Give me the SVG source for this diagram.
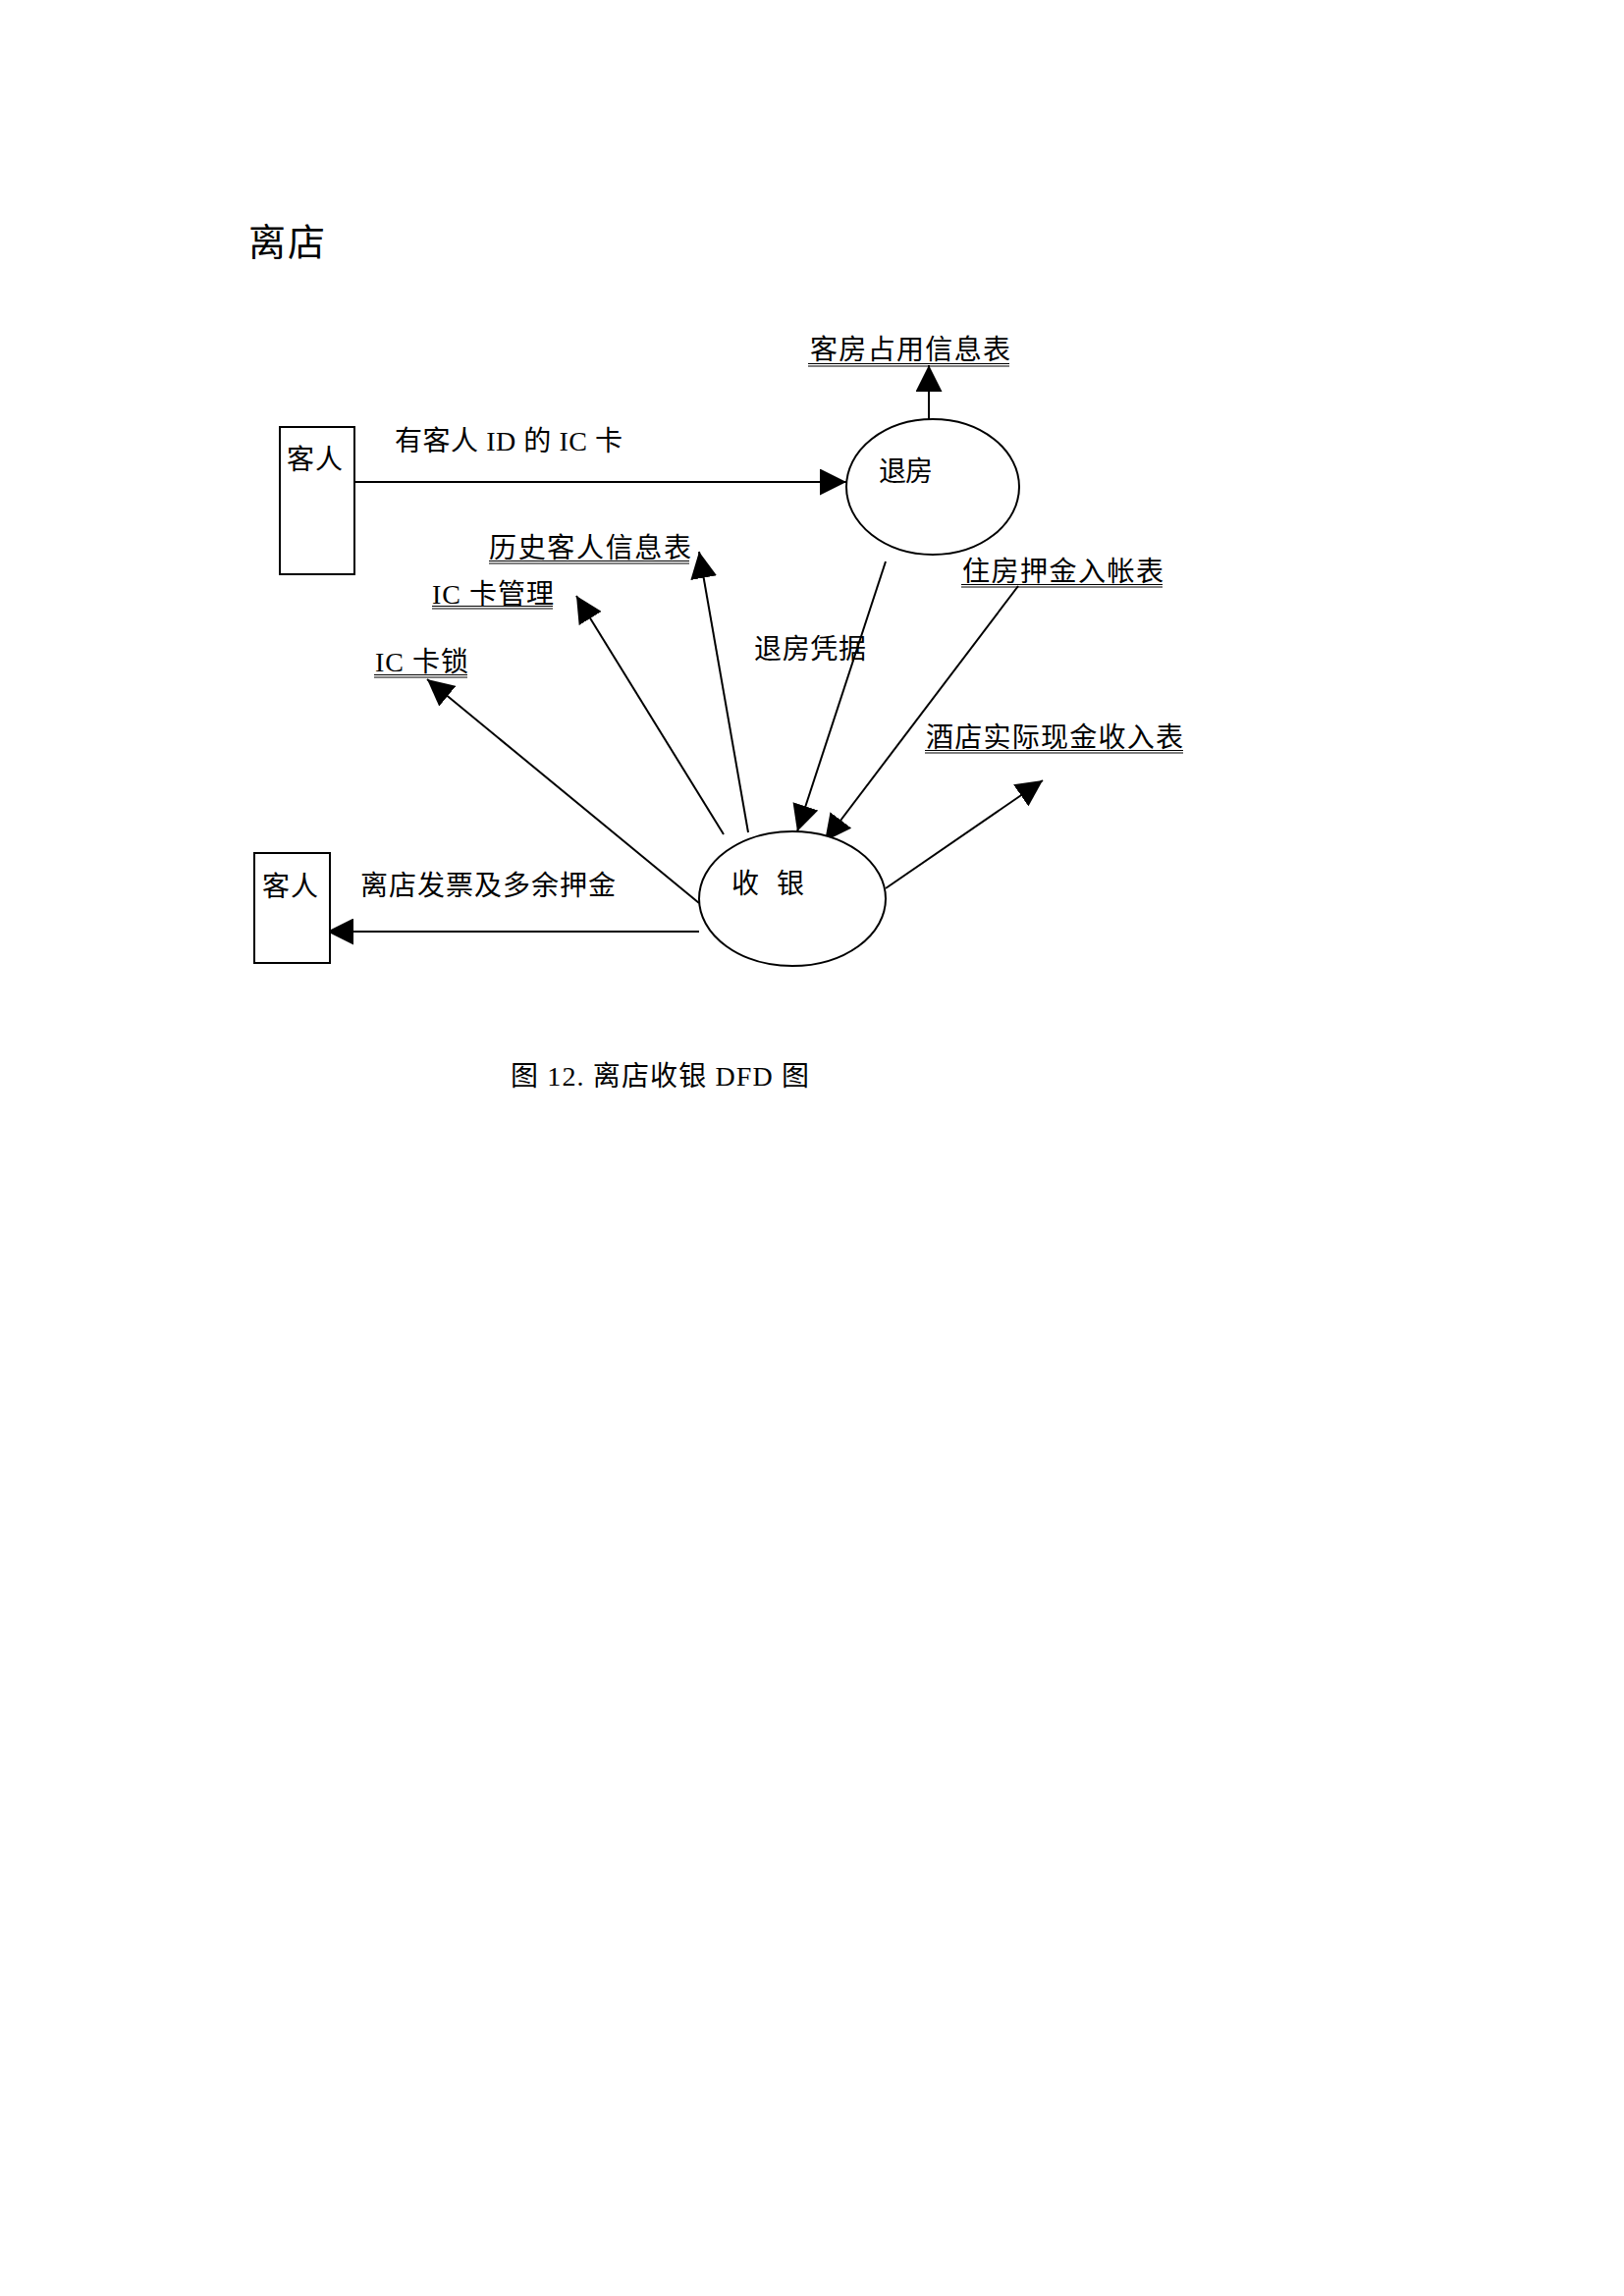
<svg xmlns="http://www.w3.org/2000/svg" width="1654" height="2339" viewBox="0 0 1654 2339">
<style>
text { font-family: "Liberation Serif", "Noto Sans CJK SC", serif; font-size: 28px; fill: #000; }
.title { font-size: 38px; }
.box { fill: #fff; stroke: #000; stroke-width: 2; }
.proc { fill: #fff; stroke: #000; stroke-width: 2; }
.flow { stroke: #000; stroke-width: 2; fill: none; marker-end: url(#arr); }
.ul { stroke: #000; stroke-width: 1.2; }
</style>
<defs>
<marker id="arr" markerUnits="userSpaceOnUse" viewBox="0 0 27 27" refX="27" refY="13.5" markerWidth="27" markerHeight="27" orient="auto">
<path d="M0,0 L27,13.5 L0,27 Z" fill="#000"/>
</marker>
</defs>
<rect width="1654" height="2339" fill="#fff"/>
<text class="title" x="253" y="260" textLength="78" lengthAdjust="spacing">离店</text>

<g id="connectors">
<line class="flow" x1="361" y1="491" x2="862" y2="491"/>
<line class="flow" x1="946" y1="437" x2="946" y2="372"/>
<line class="flow" x1="762" y1="848" x2="712" y2="562"/>
<line class="flow" x1="737" y1="850" x2="587" y2="607"/>
<line class="flow" x1="712" y1="920" x2="435" y2="692"/>
<line class="flow" x1="902" y1="572" x2="812" y2="847"/>
<line class="flow" x1="1037" y1="597" x2="840" y2="857"/>
<line class="flow" x1="902" y1="905" x2="1062" y2="795"/>
<line class="flow" x1="712" y1="949" x2="333" y2="949"/>
<text x="402" y="459" textLength="232" lengthAdjust="spacing">有客人 ID 的 IC 卡</text>
<text x="768" y="671" textLength="114" lengthAdjust="spacing">退房凭据</text>
<text x="367" y="912" textLength="260" lengthAdjust="spacing">离店发票及多余押金</text>
</g>

<g id="guest-top">
<rect class="box" x="285" y="435" width="76" height="150"/>
<text x="292" y="478" textLength="57" lengthAdjust="spacing">客人</text>
</g>

<g id="checkout">
<ellipse class="proc" cx="950" cy="496" rx="88" ry="69"/>
<text x="895" y="490" textLength="55" lengthAdjust="spacing">退房</text>
</g>

<g id="cashier">
<ellipse class="proc" cx="807" cy="915.5" rx="95" ry="68.5"/>
<text x="745" y="910" textLength="74" lengthAdjust="spacing">收 银</text>
</g>

<g id="guest-bottom">
<rect class="box" x="259" y="869" width="77" height="112"/>
<text x="267" y="913" textLength="57" lengthAdjust="spacing">客人</text>
</g>

<g id="store-room-occupancy">
<text x="825" y="366" textLength="204" lengthAdjust="spacing">客房占用信息表</text>
<line class="ul" x1="823" y1="370.5" x2="1028" y2="370.5"/>
<line class="ul" x1="823" y1="373" x2="1028" y2="373"/>
</g>

<g id="store-history">
<text x="498" y="568" textLength="206" lengthAdjust="spacing">历史客人信息表</text>
<line class="ul" x1="498" y1="571.5" x2="702" y2="571.5"/>
<line class="ul" x1="498" y1="574" x2="702" y2="574"/>
</g>

<g id="store-ic-manage">
<text x="440" y="615" textLength="124" lengthAdjust="spacing">IC 卡管理</text>
<line class="ul" x1="440" y1="617.5" x2="563" y2="617.5"/>
<line class="ul" x1="440" y1="620" x2="563" y2="620"/>
</g>

<g id="store-ic-lock">
<text x="382" y="684" textLength="95" lengthAdjust="spacing">IC 卡锁</text>
<line class="ul" x1="381" y1="687.5" x2="476" y2="687.5"/>
<line class="ul" x1="381" y1="690" x2="476" y2="690"/>
</g>

<g id="store-deposit">
<text x="980" y="592" textLength="205" lengthAdjust="spacing">住房押金入帐表</text>
<line class="ul" x1="979" y1="595.5" x2="1184" y2="595.5"/>
<line class="ul" x1="979" y1="598" x2="1184" y2="598"/>
</g>

<g id="store-cash">
<text x="943" y="761" textLength="262" lengthAdjust="spacing">酒店实际现金收入表</text>
<line class="ul" x1="942" y1="764.5" x2="1205" y2="764.5"/>
<line class="ul" x1="942" y1="767" x2="1205" y2="767"/>
</g>

<text x="520" y="1106" textLength="304" lengthAdjust="spacing">图 12. 离店收银 DFD 图</text>
</svg>
